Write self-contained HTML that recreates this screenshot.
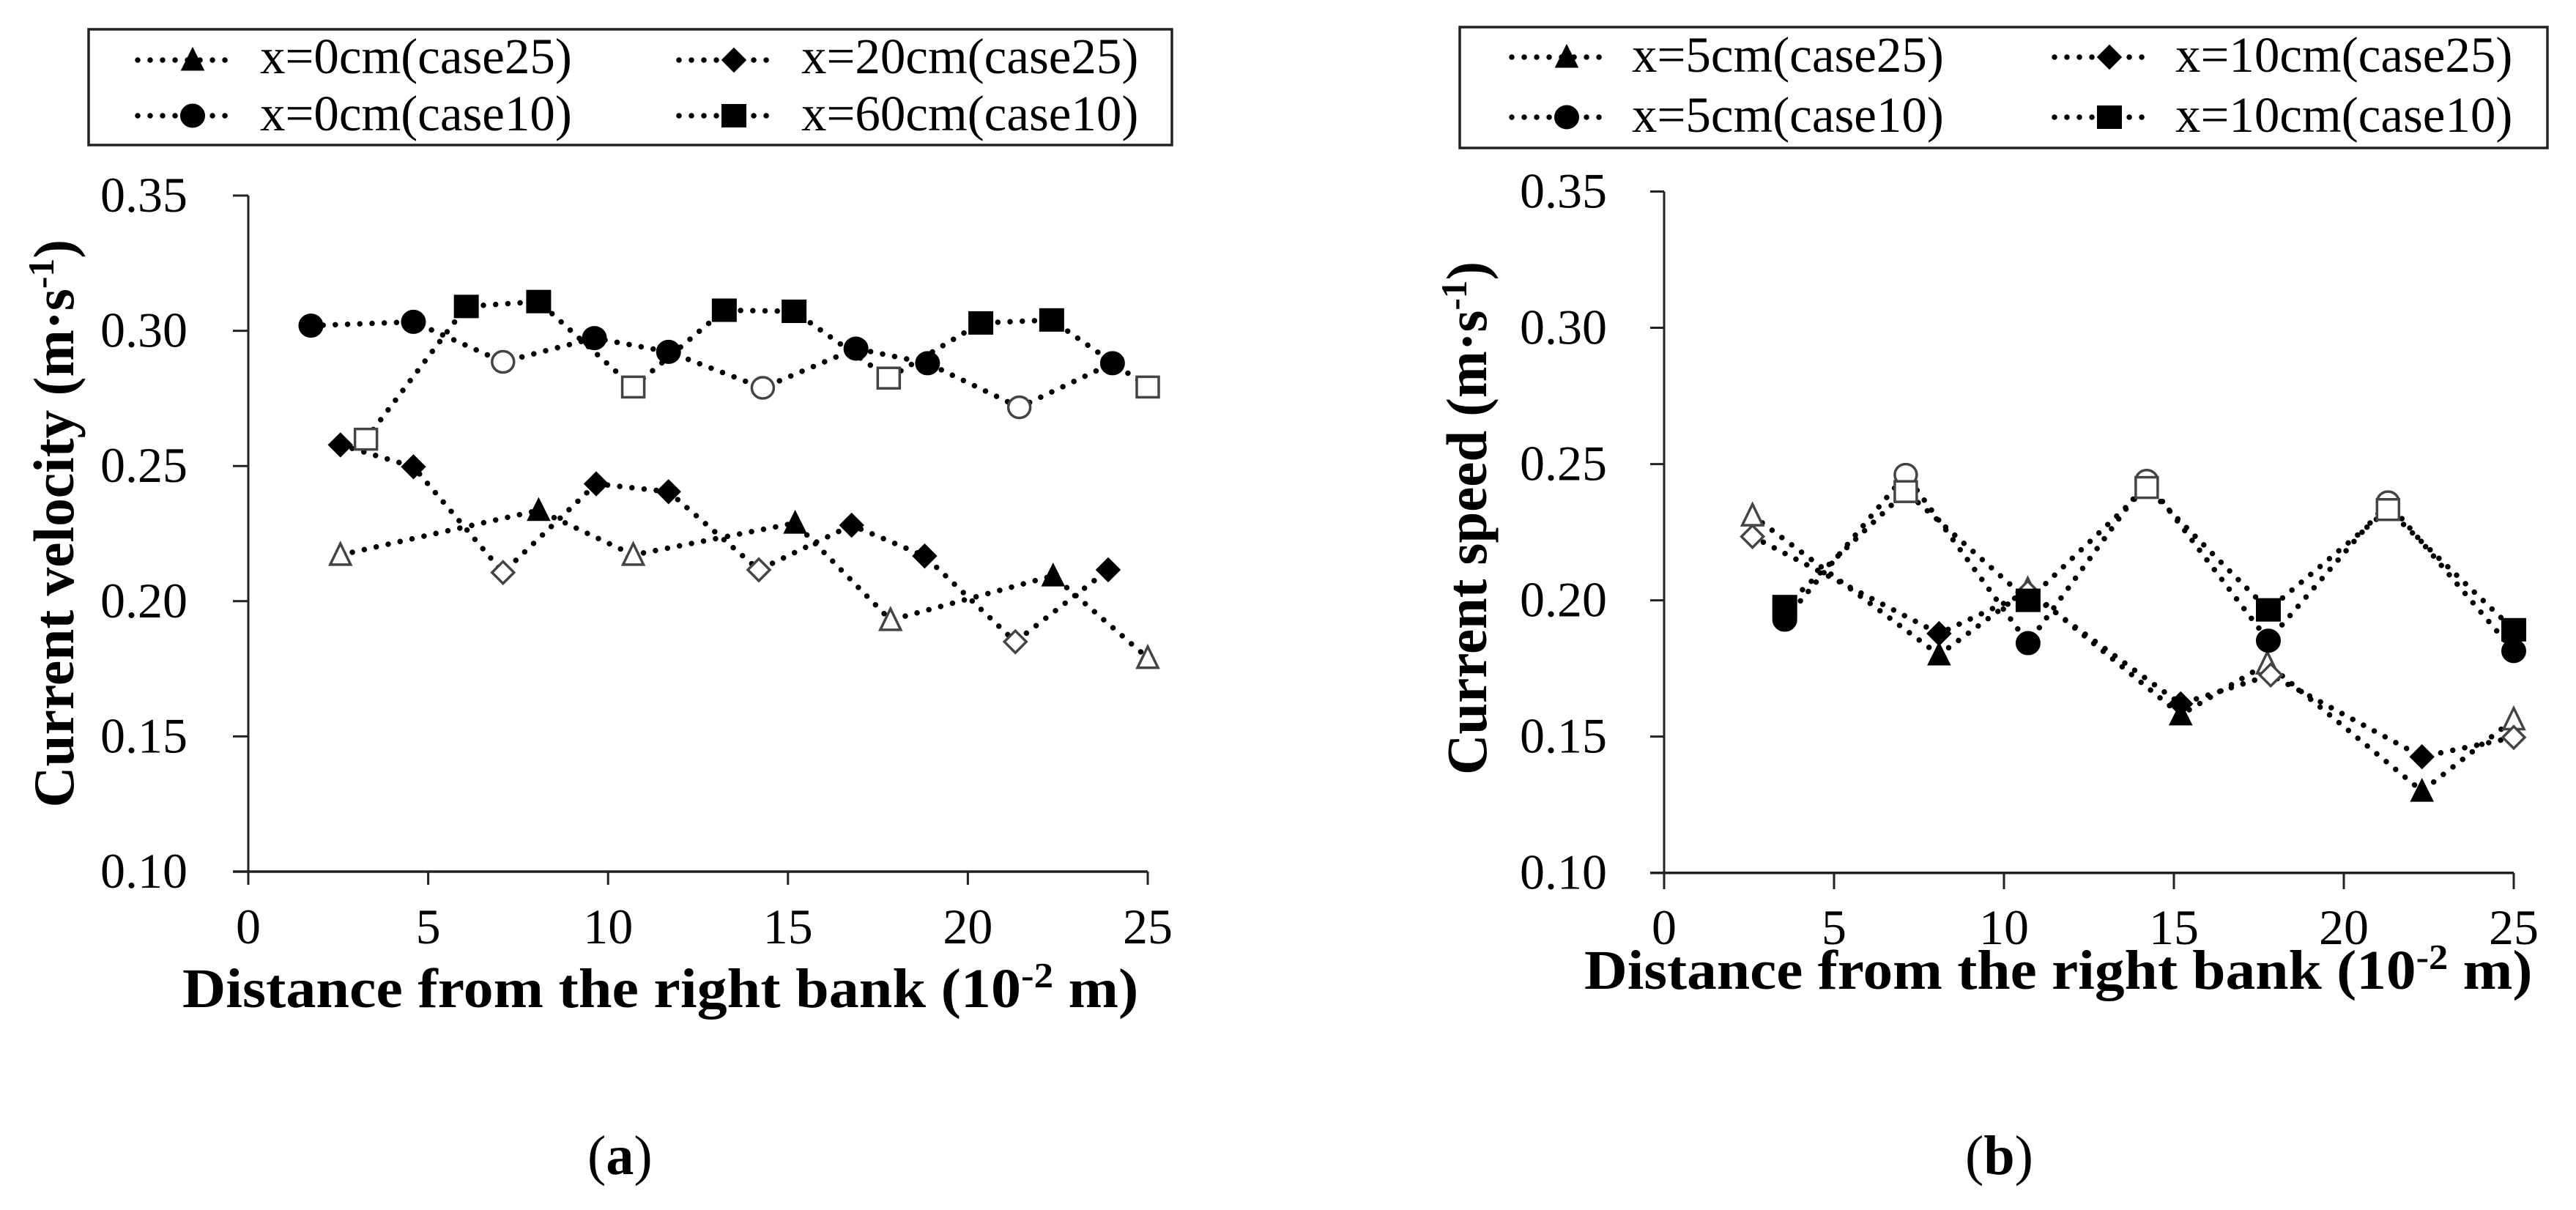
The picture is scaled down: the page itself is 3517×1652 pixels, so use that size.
<!DOCTYPE html>
<html lang="en">
<head>
<meta charset="utf-8">
<title>Current velocity and speed charts</title>
<style>
html,body{margin:0;padding:0;background:#fff;}
svg{display:block;}
text{font-family:"Liberation Serif",serif;fill:#000;}
</style>
</head>
<body>
<svg id="root" xmlns="http://www.w3.org/2000/svg" width="3517" height="1652" viewBox="0 0 3517 1652">
<rect width="3517" height="1652" fill="#fff"/>
<g id="panel-a"></g>
<g id="panel-b"></g>

<text transform="translate(100,327) rotate(-90) scale(0.993,1)" text-anchor="end" font-size="78" font-weight="bold">Current velocity (m·s<tspan dy="-27" font-size="50">-1</tspan><tspan dy="27">)</tspan></text>
<text transform="translate(249,1375) scale(1.08,1)" font-size="76" font-weight="bold">Distance from the right bank (10<tspan dy="-27" font-size="49">-2</tspan><tspan dy="27"> m)</tspan></text>
<text x="802" y="1603" font-size="76">(<tspan font-weight="bold">a</tspan>)</text>

<text transform="translate(2029,357) rotate(-90) scale(0.985,1)" text-anchor="end" font-size="78" font-weight="bold">Current speed (m·s<tspan dy="-27" font-size="50">-1</tspan><tspan dy="27">)</tspan></text>
<text transform="translate(2163,1350) scale(1.071,1)" font-size="76" font-weight="bold">Distance from the right bank (10<tspan dy="-27" font-size="49">-2</tspan><tspan dy="27"> m)</tspan></text>
<text x="2683" y="1603" font-size="76">(<tspan font-weight="bold">b</tspan>)</text>
</svg>

<script>
// Shared axis tick labels
const yTicks = [0.10, 0.15, 0.20, 0.25, 0.30, 0.35];
const xTicks = [0, 5, 10, 15, 20, 25];

// Panel (a) data
const aTriX = [2.56, 8.07, 10.7, 15.2, 17.85, 22.37, 25];
const aTriY = [0.2171, 0.2336, 0.2171, 0.2289, 0.193, 0.2094, 0.179];
const aTriFilled = [0, 1, 0, 1, 0, 1, 0];

const aDiaX = [2.56, 4.59, 7.08, 9.67, 11.68, 14.19, 16.77, 18.8, 21.32, 23.9];
const aDiaY = [0.2578, 0.2497, 0.2106, 0.2434, 0.2405, 0.2116, 0.2281, 0.2167, 0.185, 0.2116];
const aDiaFilled = [1, 1, 0, 1, 1, 0, 1, 1, 0, 1];

const aCirX = [1.74, 4.59, 7.08, 9.62, 11.68, 14.3, 16.89, 18.88, 21.43, 24.02];
const aCirY = [0.3019, 0.3033, 0.2885, 0.2973, 0.2922, 0.2789, 0.2934, 0.288, 0.2717, 0.288];
const aCirFilled = [1, 1, 0, 1, 1, 0, 1, 1, 0, 1];

const aSqrX = [3.27, 6.06, 8.07, 10.7, 13.23, 15.17, 17.8, 20.36, 22.33, 25];
const aSqrY = [0.2599, 0.309, 0.3108, 0.2792, 0.3076, 0.3072, 0.2825, 0.3029, 0.304, 0.2792];
const aSqrFilled = [0, 1, 1, 0, 1, 1, 0, 1, 1, 0];

const aLabels = ["x=0cm(case25)", "x=20cm(case25)", "x=0cm(case10)", "x=60cm(case10)"];

// Panel (b) data
const bTriX = [2.6, 8.09, 10.7, 15.2, 17.75, 22.3, 25];
const bTriY = [0.2311, 0.18, 0.204, 0.158, 0.1768, 0.13, 0.1563];
const bTriFilled = [0, 1, 0, 1, 0, 1, 0];

const bDiaX = [2.6, 8.09, 10.7, 15.2, 17.85, 22.3, 25];
const bDiaY = [0.2234, 0.1878, 0.203, 0.162, 0.1726, 0.1426, 0.1497];
const bDiaFilled = [0, 1, 0, 1, 0, 1, 0];

const bCirX = [3.55, 7.11, 10.71, 14.2, 17.78, 21.3, 25];
const bCirY = [0.1929, 0.2461, 0.1843, 0.2439, 0.1852, 0.236, 0.1814];
const bCirFilled = [1, 0, 1, 0, 1, 0, 1];

const bSqrX = [3.55, 7.11, 10.71, 14.2, 17.78, 21.3, 25];
const bSqrY = [0.1977, 0.2399, 0.2, 0.2414, 0.1965, 0.2333, 0.1892];
const bSqrFilled = [1, 0, 1, 0, 1, 0, 1];

const bLabels = ["x=5cm(case25)", "x=10cm(case25)", "x=5cm(case10)", "x=10cm(case10)"];

const NS = "http://www.w3.org/2000/svg";

function el(parent, tag, attrs) {
  const e = document.createElementNS(NS, tag);
  for (const k in attrs) e.setAttribute(k, attrs[k]);
  parent.appendChild(e);
  return e;
}

function marker(parent, kind, cx, cy, filled) {
  const fill = filled ? "#000" : "#fff";
  const stroke = filled ? "#000" : "#444";
  const sw = filled ? 1 : 3.5;
  const inset = filled ? 0 : 1.5;
  let m;
  if (kind === "triangle") {
    const w = 15.5 - inset, t = 17 - inset, b = 14 - inset / 2;
    m = el(parent, "polygon", {points: (cx - w) + "," + (cy + b) + " " + (cx + w) + "," + (cy + b) + " " + cx + "," + (cy - t), fill: fill, stroke: stroke, "stroke-width": sw});
  } else if (kind === "diamond") {
    const r = 16.5 - inset;
    m = el(parent, "polygon", {points: (cx - r) + "," + cy + " " + cx + "," + (cy - r) + " " + (cx + r) + "," + cy + " " + cx + "," + (cy + r), fill: fill, stroke: stroke, "stroke-width": sw});
  } else if (kind === "circle") {
    m = el(parent, "ellipse", {cx: cx, cy: cy, rx: 16.5 - inset, ry: filled ? 16 : 14.5, fill: fill, stroke: stroke, "stroke-width": sw});
  } else {
    const hw = 16.5 - inset, hh = filled ? 15.5 : 14;
    m = el(parent, "rect", {x: cx - hw, y: cy - hh, width: 2 * hw, height: 2 * hh, fill: fill, stroke: stroke, "stroke-width": sw});
  }
  return m;
}

function drawPanel(opts) {
  const g = document.getElementById(opts.id);
  const sx = v => opts.x0 + (v - 0) / 25 * (opts.x25 - opts.x0);
  const sy = v => opts.y10 - (v - 0.10) / 0.25 * (opts.y10 - opts.y35);
  const axisColor = "#222";

  // legend
  const lg = el(g, "g", {});
  
  
  const frame = el(lg, "rect", {x: opts.legend.x, y: opts.legend.y, width: opts.legend.w, height: opts.legend.h, fill: "#fff", stroke: "#222", "stroke-width": 3.5});
  
  
  const kinds = ["triangle", "diamond", "circle", "square"];
  kinds.forEach((kind, i) => {
    const col = i % 2, row = i < 2 ? 0 : 1;
    const le = el(lg, "g", {});
    
    
    const mx = opts.legend.mx[col], my = opts.legend.my[row];
    el(le, "line", {x1: mx - 75, y1: my, x2: mx + 61, y2: my, stroke: "#000", "stroke-width": 7.5, "stroke-linecap": "round", "stroke-dasharray": "0.01 17"});
    marker(le, kind, mx, my, true);
    const t = el(le, "text", {x: opts.legend.tx[col], y: opts.legend.ty[row], "font-size": 69});
    t.textContent = opts.labels[i];
  });

  // axes
  const ax = el(g, "g", {});
  
  
  const yLine = el(ax, "line", {x1: opts.x0, y1: opts.y35, x2: opts.x0, y2: opts.tickBottom, stroke: axisColor, "stroke-width": 3});
  
  
  const xLine = el(ax, "line", {x1: opts.tickLeft, y1: opts.y10, x2: opts.x25, y2: opts.y10, stroke: axisColor, "stroke-width": 3.5});
  
  

  yTicks.forEach(v => {
    const y = sy(v);
    el(ax, "line", {x1: opts.tickLeft, y1: y, x2: opts.x0, y2: y, stroke: axisColor, "stroke-width": 3});
    const t = el(ax, "text", {x: opts.yLabelRight, y: y + 22, "text-anchor": "end", "font-size": 68});
    
    
    t.textContent = v.toFixed(2);
  });
  xTicks.forEach(v => {
    const x = sx(v);
    el(ax, "line", {x1: x, y1: opts.y10, x2: x, y2: opts.tickBottom, stroke: axisColor, "stroke-width": 3});
    const t = el(ax, "text", {x: x, y: opts.xLabelBase, "text-anchor": "middle", "font-size": 68});
    
    
    t.textContent = String(v);
  });

  // series
  opts.series.forEach(s => {
    const sg = el(g, "g", {});
    
    
    const pts = s.x.map((v, i) => sx(v) + "," + sy(s.y[i])).join(" ");
    const line = el(sg, "polyline", {points: pts, fill: "none", stroke: "#000", "stroke-width": 7.5, "stroke-linecap": "round", "stroke-dasharray": "0.01 16.7"});
    
    
    s.x.forEach((v, i) => {
      const m = marker(sg, s.kind, sx(v), sy(s.y[i]), s.filled[i]);
      
      
    });
  });
}

drawPanel({
  id: "panel-a", prefix: "panel-a", labels: aLabels,
  x0: 339, x25: 1567, y10: 1190, y35: 267,
  tickLeft: 318, tickBottom: 1208, yLabelRight: 256, xLabelBase: 1288,
  legend: {x: 121, y: 40, w: 1479, h: 158, mx: [263, 1002], my: [82, 158], tx: [355, 1094], ty: [100, 178]},
  series: [
    {kind: "triangle", x: aTriX, y: aTriY, filled: aTriFilled},
    {kind: "diamond", x: aDiaX, y: aDiaY, filled: aDiaFilled},
    {kind: "circle", x: aCirX, y: aCirY, filled: aCirFilled},
    {kind: "square", x: aSqrX, y: aSqrY, filled: aSqrFilled}
  ]
});

drawPanel({
  id: "panel-b", prefix: "panel-b", labels: bLabels,
  x0: 2272, x25: 3432, y10: 1191.7, y35: 261.5,
  tickLeft: 2253, tickBottom: 1214, yLabelRight: 2194, xLabelBase: 1289,
  legend: {x: 1993, y: 37, w: 1485, h: 165, mx: [2139, 2880], my: [78, 160], tx: [2228, 2970], ty: [98, 180]},
  series: [
    {kind: "triangle", x: bTriX, y: bTriY, filled: bTriFilled},
    {kind: "diamond", x: bDiaX, y: bDiaY, filled: bDiaFilled},
    {kind: "circle", x: bCirX, y: bCirY, filled: bCirFilled},
    {kind: "square", x: bSqrX, y: bSqrY, filled: bSqrFilled}
  ]
});
</script>
</body>
</html>
